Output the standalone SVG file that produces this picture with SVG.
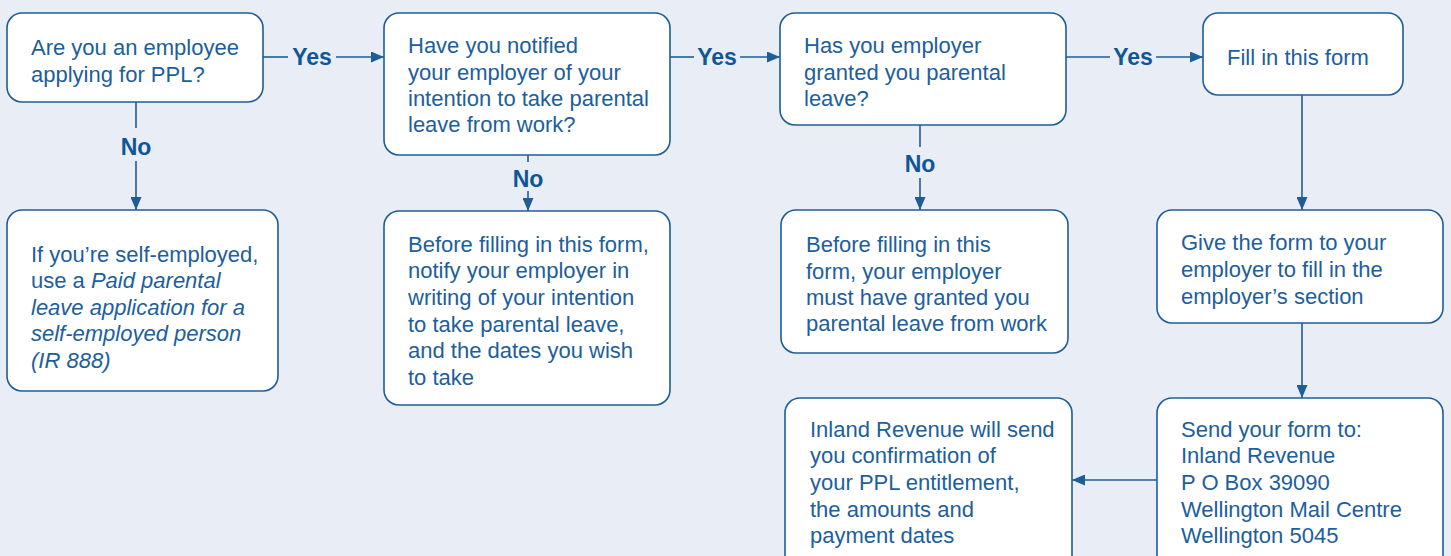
<svg xmlns="http://www.w3.org/2000/svg" width="1451" height="556" viewBox="0 0 1451 556">
  <style>
    .box { fill: #ffffff; stroke: #1f5d97; stroke-width: 1.6; }
    .t { font-family: "Liberation Sans", Arial, sans-serif; font-size: 22px; fill: #1d5e9c; }
    .it { font-style: italic; }
    .lbl { font-family: "Liberation Sans", Arial, sans-serif; font-size: 23px; font-weight: bold; fill: #0f5696; text-anchor: middle; }
    .wire { fill: none; stroke: #1f5d97; stroke-width: 1.6; }
  </style>
  <defs>
    <marker id="arrow" markerUnits="userSpaceOnUse" markerWidth="14" markerHeight="11" refX="13" refY="5.5" orient="auto">
      <path d="M0,0 L13,5.5 L0,11 z" fill="#1f5d97"/>
    </marker>
  </defs>

  <rect width="1451" height="556" fill="#e9eef6"/>

  <!-- connectors -->
  <g id="connectors">
    <path class="wire" d="M263,57 H288"/>
    <path class="wire" d="M336,57 H384" marker-end="url(#arrow)"/>
    <text class="lbl" x="312" y="65">Yes</text>

    <path class="wire" d="M670,57 H694"/>
    <path class="wire" d="M740,57 H780" marker-end="url(#arrow)"/>
    <text class="lbl" x="717" y="65">Yes</text>

    <path class="wire" d="M1066,57 H1110"/>
    <path class="wire" d="M1156,57 H1203" marker-end="url(#arrow)"/>
    <text class="lbl" x="1133" y="65">Yes</text>

    <path class="wire" d="M136,102 V128"/>
    <path class="wire" d="M136,161 V210" marker-end="url(#arrow)"/>
    <text class="lbl" x="136" y="155">No</text>

    <path class="wire" d="M528,155 V162"/>
    <path class="wire" d="M528,191 V211" marker-end="url(#arrow)"/>
    <text class="lbl" x="528" y="187">No</text>

    <path class="wire" d="M920,125 V147"/>
    <path class="wire" d="M920,178 V210" marker-end="url(#arrow)"/>
    <text class="lbl" x="920" y="172">No</text>

    <path class="wire" d="M1302,95 V210" marker-end="url(#arrow)"/>
    <path class="wire" d="M1302,323 V398" marker-end="url(#arrow)"/>
    <path class="wire" d="M1157,480 H1072" marker-end="url(#arrow)"/>
  </g>

  <!-- question: employee? -->
  <g id="q-employee">
    <rect class="box" x="7" y="13" width="256" height="89" rx="15"/>
    <text class="t" x="31" y="55">Are you an employee</text>
    <text class="t" x="31" y="82">applying for PPL?</text>
  </g>

  <!-- question: notified employer? -->
  <g id="q-notified">
    <rect class="box" x="384" y="13" width="286" height="142" rx="15"/>
    <text class="t" x="408" y="53">Have you notified</text>
    <text class="t" x="408" y="80">your employer of your</text>
    <text class="t" x="408" y="106">intention to take parental</text>
    <text class="t" x="408" y="132">leave from work?</text>
  </g>

  <!-- question: leave granted? -->
  <g id="q-granted">
    <rect class="box" x="780" y="13" width="286" height="112" rx="15"/>
    <text class="t" x="804" y="53">Has you employer</text>
    <text class="t" x="804" y="80">granted you parental</text>
    <text class="t" x="804" y="106">leave?</text>
  </g>

  <!-- step: fill in form -->
  <g id="fill-form">
    <rect class="box" x="1203" y="13" width="200" height="82" rx="15"/>
    <text class="t" x="1227" y="65">Fill in this form</text>
  </g>

  <!-- self-employed advice -->
  <g id="self-employed">
    <rect class="box" x="7" y="210" width="271" height="181" rx="15"/>
    <text class="t" x="31" y="262">If you’re self-employed,</text>
    <text class="t" x="31" y="288">use a <tspan class="it">Paid parental</tspan></text>
    <text class="t it" x="31" y="315">leave application for a</text>
    <text class="t it" x="31" y="341">self-employed person</text>
    <text class="t it" x="31" y="368">(IR 888)</text>
  </g>

  <!-- notify employer first -->
  <g id="notify-first">
    <rect class="box" x="384" y="211" width="286" height="194" rx="15"/>
    <text class="t" x="408" y="252">Before filling in this form,</text>
    <text class="t" x="408" y="278">notify your employer in</text>
    <text class="t" x="408" y="305">writing of your intention</text>
    <text class="t" x="408" y="332">to take parental leave,</text>
    <text class="t" x="408" y="358">and the dates you wish</text>
    <text class="t" x="408" y="385">to take</text>
  </g>

  <!-- leave must be granted first -->
  <g id="granted-first">
    <rect class="box" x="781" y="210" width="287" height="143" rx="15"/>
    <text class="t" x="806" y="252">Before filling in this</text>
    <text class="t" x="806" y="279">form, your employer</text>
    <text class="t" x="806" y="305">must have granted you</text>
    <text class="t" x="806" y="331">parental leave from work</text>
  </g>

  <!-- employer section -->
  <g id="employer-section">
    <rect class="box" x="1157" y="210" width="286" height="113" rx="15"/>
    <text class="t" x="1181" y="250">Give the form to your</text>
    <text class="t" x="1181" y="277">employer to fill in the</text>
    <text class="t" x="1181" y="304">employer’s section</text>
  </g>

  <!-- send form -->
  <g id="send-form">
    <rect class="box" x="1157" y="398" width="286" height="180" rx="15"/>
    <text class="t" x="1181" y="437">Send your form to:</text>
    <text class="t" x="1181" y="463">Inland Revenue</text>
    <text class="t" x="1181" y="490">P O Box 39090</text>
    <text class="t" x="1181" y="517">Wellington Mail Centre</text>
    <text class="t" x="1181" y="543">Wellington 5045</text>
  </g>

  <!-- confirmation -->
  <g id="confirmation">
    <rect class="box" x="785" y="398" width="287" height="180" rx="15"/>
    <text class="t" x="810" y="437">Inland Revenue will send</text>
    <text class="t" x="810" y="463">you confirmation of</text>
    <text class="t" x="810" y="490">your PPL entitlement,</text>
    <text class="t" x="810" y="517">the amounts and</text>
    <text class="t" x="810" y="543">payment dates</text>
  </g>
</svg>
